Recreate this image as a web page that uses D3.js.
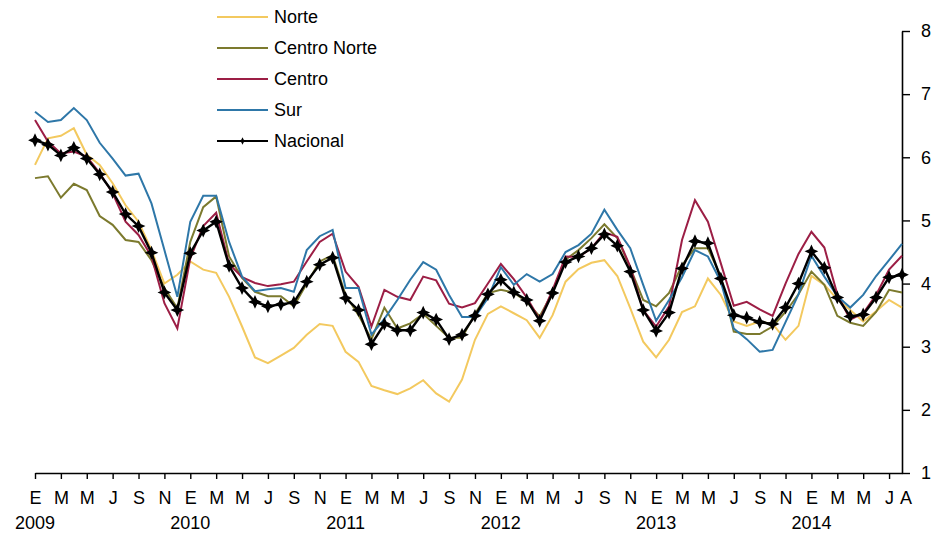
<!DOCTYPE html>
<html>
<head>
<meta charset="utf-8">
<script src="https://cdn.jsdelivr.net/npm/d3@7"></script>
<style>
  html, body { margin: 0; padding: 0; background: #fff; }
  svg { display: block; font-family: "Liberation Sans", Arial, sans-serif; }
</style>
</head>
<body>
<svg id="chart" width="936" height="533"></svg>
<script>
// Monthly, Jan 2009 .. Aug 2014 (68 months)
const monthLetters = ["E","F","M","A","M","J","J","A","S","O","N","D"];
const startYear = 2009;
const nMonths = 68;
const yTicks = [1, 2, 3, 4, 5, 6, 7, 8];

const norte = [5.88,6.30,6.34,6.46,6.04,5.88,5.59,5.24,4.98,4.53,4.00,4.14,
  4.35,4.22,4.17,3.79,3.32,2.83,2.74,2.86,2.98,3.19,3.36,3.33,
  2.92,2.76,2.38,2.31,2.25,2.34,2.47,2.26,2.13,2.48,3.11,3.52,
  3.64,3.53,3.42,3.14,3.50,4.03,4.23,4.33,4.37,4.12,3.61,3.08,
  2.83,3.11,3.55,3.64,4.08,3.82,3.40,3.33,3.40,3.36,3.11,3.33,
  4.12,3.98,3.75,3.58,3.40,3.56,3.74,3.62];

const centroNorte = [5.67,5.70,5.36,5.58,5.48,5.07,4.93,4.69,4.66,4.37,3.93,3.61,
  4.66,5.21,5.38,4.43,4.09,3.87,3.80,3.80,3.64,4.00,4.35,4.45,
  3.82,3.50,3.12,3.62,3.29,3.37,3.52,3.33,3.14,3.14,3.52,3.85,
  3.90,3.86,3.71,3.48,3.86,4.38,4.53,4.72,4.94,4.72,4.25,3.74,
  3.64,3.85,4.29,4.56,4.56,4.11,3.24,3.20,3.20,3.32,3.55,3.83,
  4.19,3.98,3.49,3.38,3.33,3.55,3.90,3.86];

const centro = [6.59,6.25,6.06,6.09,6.01,5.75,5.43,4.98,4.77,4.43,3.69,3.29,
  4.40,4.91,5.12,4.31,4.10,4.01,3.96,3.99,4.03,4.35,4.66,4.79,
  4.19,3.95,3.32,3.90,3.79,3.74,4.11,4.05,3.68,3.62,3.69,4.00,
  4.31,4.07,3.78,3.43,3.90,4.43,4.42,4.56,4.81,4.74,4.27,3.58,
  3.32,3.64,4.69,5.32,4.98,4.32,3.65,3.71,3.59,3.49,4.00,4.47,
  4.82,4.57,3.83,3.43,3.53,3.82,4.22,4.44];

const sur = [6.72,6.56,6.59,6.78,6.59,6.23,5.98,5.71,5.74,5.27,4.53,3.79,
  4.98,5.39,5.39,4.66,4.11,3.88,3.91,3.93,3.87,4.53,4.75,4.85,
  3.93,3.93,3.19,3.44,3.74,4.06,4.34,4.22,3.82,3.47,3.47,3.77,
  4.26,3.98,4.15,4.03,4.15,4.50,4.61,4.79,5.17,4.85,4.56,3.98,
  3.41,3.74,4.10,4.53,4.43,4.03,3.29,3.12,2.92,2.95,3.39,3.83,
  4.44,4.11,3.80,3.62,3.82,4.12,4.37,4.63];

const nacional = [6.27,6.20,6.03,6.15,5.98,5.73,5.45,5.10,4.91,4.49,3.86,3.58,
  4.48,4.84,4.98,4.28,3.93,3.71,3.64,3.67,3.70,4.03,4.30,4.41,
  3.77,3.58,3.04,3.36,3.26,3.26,3.54,3.43,3.12,3.19,3.49,3.83,
  4.06,3.86,3.74,3.41,3.85,4.34,4.43,4.56,4.78,4.60,4.19,3.58,
  3.25,3.54,4.24,4.67,4.64,4.08,3.50,3.46,3.39,3.36,3.62,4.00,
  4.51,4.25,3.78,3.48,3.51,3.78,4.10,4.14];

const seriesNames = ["Norte", "Centro Norte", "Centro", "Sur", "Nacional"];
const seriesData = [norte, centroNorte, centro, sur, nacional];
const seriesColors = ["#F3C95F", "#7C7A2E", "#9C1E45", "#2E77A8", "#000000"];

const svg = d3.select("#chart");
const x = d3.scaleLinear().domain([0, nMonths - 1]).range([35, 902]);
const y = d3.scaleLinear().domain([1, 8]).range([473, 31]);

// star marker (4 points)
const star4 = {
  draw(ctx, size) {
    const R = Math.sqrt(size) / 2, r = R * 0.45;
    for (let k = 0; k < 8; k++) {
      const a = k * Math.PI / 4 - Math.PI / 2;
      const rr = k % 2 === 0 ? R : r;
      const px = rr * Math.cos(a), py = rr * Math.sin(a);
      if (k === 0) ctx.moveTo(px, py); else ctx.lineTo(px, py);
    }
    ctx.closePath();
  }
};

// X axis
const xTickIdx = d3.range(0, nMonths, 2);
const xAxis = d3.axisBottom(x)
  .tickValues(xTickIdx)
  .tickSize(6)
  .tickSizeOuter(0)
  .tickFormat(i => monthLetters[i % 12]);
const gx = svg.append("g").attr("transform", `translate(0,${y(1)})`).call(xAxis);
gx.select(".domain").attr("stroke", "#000").attr("stroke-width", 1.6);
gx.selectAll(".tick line").attr("stroke", "#000").attr("stroke-width", 1.4);
gx.selectAll(".tick text").attr("font-size", 18).attr("fill", "#000")
  .attr("y", 0).attr("dy", 0).attr("transform", "translate(0,31)");
// final month label (A, Aug 2014)
svg.append("text")
  .attr("x", x(nMonths - 1) + 4).attr("y", y(1) + 31)
  .attr("text-anchor", "middle").attr("font-size", 18).attr("fill", "#000")
  .text(monthLetters[(nMonths - 1) % 12]);
// year labels
d3.range(0, nMonths, 12).forEach(i => {
  svg.append("text")
    .attr("x", x(i)).attr("y", 529)
    .attr("text-anchor", "middle").attr("font-size", 18).attr("fill", "#000")
    .text(startYear + i / 12);
});

// Y axis on right
const yAxis = d3.axisRight(y).tickValues(yTicks).tickSize(8).tickSizeOuter(0).tickFormat(d3.format("d"));
const gy = svg.append("g").attr("transform", `translate(${x(nMonths - 1)},0)`).call(yAxis);
gy.select(".domain").attr("stroke", "#000").attr("stroke-width", 1.6);
gy.selectAll(".tick line").attr("stroke", "#000").attr("stroke-width", 1.4);
gy.selectAll(".tick text").attr("font-size", 18).attr("fill", "#000").attr("x", 19);

// Lines
const line = d3.line().x((d, i) => x(i)).y(d => y(d));
seriesData.forEach((data, s) => {
  svg.append("path")
    .datum(data)
    .attr("fill", "none")
    .attr("stroke", seriesColors[s])
    .attr("stroke-width", s === 4 ? 2.4 : 2)
    .attr("stroke-linejoin", "miter")
    .attr("d", line);
});
// Nacional markers
svg.append("g").selectAll("path")
  .data(nacional)
  .join("path")
  .attr("transform", (d, i) => `translate(${x(i)},${y(d)})`)
  .attr("d", d3.symbol().type(star4).size(190))
  .attr("fill", "#000");

// Legend
const legend = svg.append("g");
seriesNames.forEach((name, s) => {
  const ly = 17 + s * 31;
  legend.append("line")
    .attr("x1", 217).attr("x2", 268).attr("y1", ly).attr("y2", ly)
    .attr("stroke", seriesColors[s]).attr("stroke-width", 2);
  if (s === 4) {
    legend.append("path")
      .attr("transform", `translate(242.5,${ly})`)
      .attr("d", d3.symbol().type(star4).size(60))
      .attr("fill", "#000");
  }
  legend.append("text")
    .attr("x", 274).attr("y", ly).attr("dy", "0.36em")
    .attr("font-size", 18).attr("fill", "#000")
    .text(name);
});
</script>
</body>
</html>
